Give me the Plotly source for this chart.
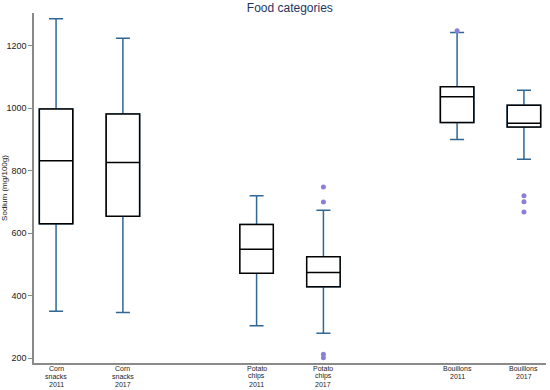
import plotly.graph_objects as go

# Data
labels = ["Corn<br>snacks<br>2011", "Corn<br>snacks<br>2017",
          "Potato<br>chips<br>2011", "Potato<br>chips<br>2017",
          "Bouillons<br>2011", "Bouillons<br>2017"]
positions = [0, 1, 3, 4, 6, 7]
lower_fence = [350, 346, 303, 279, 899, 836]
q1 = [630, 654, 471, 428, 954, 939]
median = [831, 826, 548, 474, 1036, 951]
q3 = [997, 981, 627, 524, 1068, 1009]
upper_fence = [1286, 1223, 719, 673, 1242, 1057]

outlier_pos = [4, 4, 4, 4, 6, 7, 7, 7]
outlier_val = [747, 699, 212, 201, 1247, 719, 700, 667]

y_ticks = [200, 400, 600, 800, 1000, 1200]

WHISKER = "#2f6795"
OUTLIER = "#8b80d8"

fig = go.Figure()
# whiskers (blue)
fig.add_trace(go.Box(
    x=positions, q1=q1, median=median, q3=q3,
    lowerfence=lower_fence, upperfence=upper_fence,
    width=0.5, whiskerwidth=0.42, boxpoints=False,
    line=dict(color=WHISKER, width=1.5), fillcolor="white",
    hoverinfo="skip", showlegend=False,
))
# boxes (black) on top
fig.add_trace(go.Box(
    x=positions, q1=q1, median=median, q3=q3,
    lowerfence=q1, upperfence=q3,
    width=0.5, whiskerwidth=0, boxpoints=False,
    line=dict(color="black", width=1.5), fillcolor="white",
    showlegend=False,
))
fig.add_trace(go.Scatter(
    x=outlier_pos, y=outlier_val, mode="markers",
    marker=dict(color=OUTLIER, size=5), showlegend=False,
))

# category labels, one line each, tightly spaced
annotations = []
for pos, lab in zip(positions, labels):
    for i, line in enumerate(lab.split("<br>")):
        annotations.append(dict(
            x=pos, xref="x", y=0, yref="paper", text=line, showarrow=False,
            xanchor="center", yanchor="middle", yshift=-(5.5 + 7.8 * i),
            font=dict(size=7, color="#222"),
        ))

fig.update_layout(
    width=550, height=390,
    margin=dict(l=34, r=4, t=13, b=27),
    paper_bgcolor="white", plot_bgcolor="white",
    boxmode="overlay",
    font=dict(family="Liberation Sans, Arial, sans-serif", size=9, color="#222"),
    title=dict(text="Food categories", x=0.527, xanchor="center", y=0.99, yanchor="top",
               font=dict(size=12, color="#1f3560")),
    annotations=annotations,
)
fig.update_xaxes(
    range=[-0.33, 7.33], tickvals=positions, showticklabels=False,
    showline=True, linecolor="#8a8a8a", linewidth=1.5,
    showgrid=False, zeroline=False, ticks="", automargin=False,
)
fig.update_yaxes(
    range=[184, 1304], tickvals=y_ticks,
    showline=True, linecolor="#8a8a8a", linewidth=1.5,
    showgrid=False, zeroline=False, ticks="outside", ticklen=4, tickcolor="#8a8a8a",
    automargin=False, tickfont=dict(size=9, color="#222"),
    title=dict(text="Sodium (mg/100g)", font=dict(size=8, color="#222"), standoff=2),
)

fig.write_html("out.html", config={"displayModeBar": False},
               post_script="document.body.style.margin='0';")
